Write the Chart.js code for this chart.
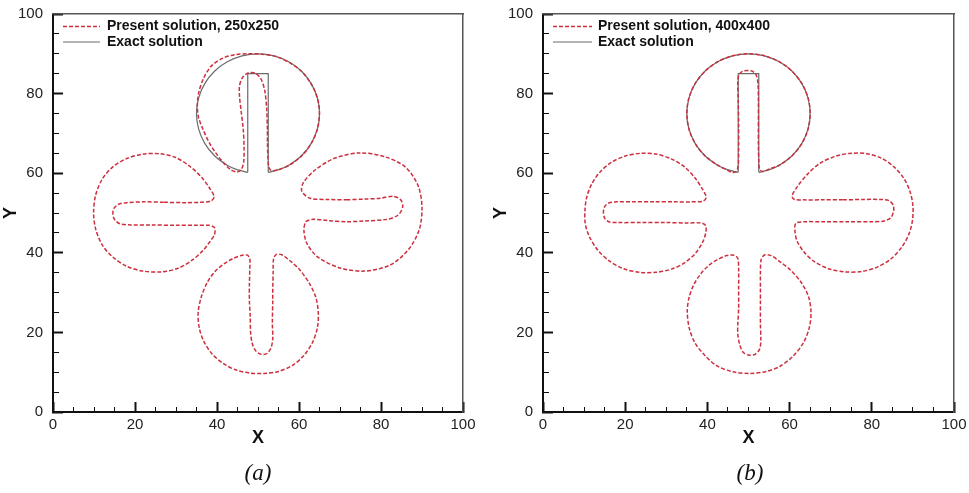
<!DOCTYPE html>
<html>
<head>
<meta charset="utf-8">
<script src="https://cdn.jsdelivr.net/npm/chart.js@4.4.1/dist/chart.umd.min.js"></script>
<style>
  body { margin: 0; background: #fff; }
  #wrap { position: relative; width: 969px; height: 493px; }
  .panel { position: absolute; top: 0; }
  .cap { position: absolute; top: 460px; width: 200px; text-align: center;
         font: italic 23px 'Liberation Serif', 'Times New Roman', serif; line-height: 26px; color: #111; }
</style>
</head>
<body>
<div id="wrap">
  <div class="panel" style="left:0px"><canvas id="chartA" width="480" height="493"></canvas></div>
  <div class="panel" style="left:490px"><canvas id="chartB" width="479" height="493"></canvas></div>
  <div class="cap" style="left:158px">(a)</div>
  <div class="cap" style="left:650px">(b)</div>
</div>
<script>
// ---- data (x, y) ----
const tickValues = [0, 20, 40, 60, 80, 100];
const legendA = ['Present solution, 250x250', 'Exact solution'];
const legendB = ['Present solution, 400x400', 'Exact solution'];

// exact Zalesak disk (same in both panels)
const exactArc = [[52.5,60.21],[55.13,60.9],[57.5,62.01],[60.61,64.39],[62.99,67.5],[64.49,71.12],[65,75],
  [64.49,78.88],[62.99,82.5],[60.61,85.61],[57.5,87.99],[53.88,89.49],[50,90],[46.12,89.49],[42.5,87.99],
  [39.39,85.61],[37.01,82.5],[35.51,78.88],[35,75],[35.51,71.12],[37.01,67.5],[39.39,64.39],[42.5,62.01],
  [44.87,60.9],[47.5,60.21]];
const exactSlot = [[47.5,60.21],[47.5,85],[52.5,85],[52.5,60.21]];

// panel (a) 250x250
const aTop = [[52.3,71],[52.1,76.5],[51.6,81],[50.6,83.9],[49.2,85.2],[47.6,85.2],[46.2,84],[45.5,82],
  [45.5,79.3],[45.9,75.5],[46.4,71],[46.6,66.5],[46.5,62.8],[45.9,60.9],[44.8,60.3],[43.3,60.9],[41.6,62.6],
  [39.7,65.1],[38,67.9],[36.6,71],[35.5,74],[35.2,77],[35.6,80.5],[36.8,84],[38.6,86.9],[41.4,88.9],
  [44.5,89.8],[47.5,90],[51,89.9],[54.5,89.3],[57.8,87.7],[60.8,85.4],[63.2,82],[64.6,78.5],[65,75],
  [64.5,71.1],[63,67.5],[60.8,64.5],[57.8,62.1],[55,60.9],[53.2,60.7],[52.6,61.8],[52.4,64.5],[52.3,68],[52.3,71]];
const aLeft = [[27,52.7],[22,52.8],[18,52.6],[16,52.2],[14.9,51.2],[14.6,49.9],[15,48.4],[16.3,47.3],[19,47],
  [24,47],[30,46.9],[35,46.9],[38,46.9],[39.4,46.3],[39.4,44.6],[38.4,43],[36.6,40.6],[34,38.2],[30.5,36.1],
  [26.5,35.2],[22,35.4],[18,36.6],[14.5,39],[12,42],[10.4,46],[9.9,50],[10.4,54.5],[12,58.5],[14.6,61.6],
  [18,63.7],[22,64.8],[26,64.9],[29.8,64],[33.3,61.8],[36.3,58.9],[38.3,56.1],[39.3,54.1],[38.5,53],[36,52.7],
  [32,52.6],[27,52.7]];
const aRight = [[71.6,53.3],[76,53.5],[79.8,53.7],[83,54.2],[84.8,53.3],[85.3,51.6],[84.2,49.5],[81.4,48.4],
  [76,48],[71.6,47.8],[67,48.1],[63.5,48.4],[61.7,47.8],[61.2,45.7],[61.9,42.4],[64.6,38.9],[70,36.2],
  [75.9,35.4],[82.2,36.9],[86.6,40.7],[89.3,45.7],[90,51.5],[89,57],[85.9,61.6],[81,64.1],[74.9,65.1],
  [68.8,63.8],[63.9,60.8],[61,57.5],[60.7,55.4],[62.7,53.7],[67,53.4],[71.6,53.3]];
const aBottom = [[53.6,28],[53.5,22.3],[53.6,18.5],[53.2,16.2],[52.2,14.7],[50.8,14.5],[49.5,15.3],[48.6,17.2],
  [48.2,20],[48.1,24],[47.9,28],[47.9,32],[48,36],[48,38.5],[47.4,39.4],[46.2,39.4],[44,38.6],[41.8,37.3],
  [39.5,35.3],[37.6,32.5],[36.2,29],[35.4,25],[35.7,21],[36.9,17.5],[38.8,14.6],[41.5,12.2],[44.5,10.6],
  [48,9.8],[51.5,9.7],[55,10.2],[58.4,11.7],[61.2,14.2],[63.3,17.5],[64.5,21.2],[64.7,25],[64.1,28.8],
  [62.6,32.2],[60.2,35.7],[57.8,38],[55.8,39.5],[54.5,39.6],[53.8,38.5],[53.7,35],[53.6,31],[53.6,28]];

// panel (b) 400x400
const bTop = [[52.4,72],[52.4,78],[52.3,82.5],[51.9,84.6],[51,85.6],[49.8,85.8],[48.5,85.6],[47.7,84.8],
  [47.4,83],[47.5,78],[47.6,72],[47.6,66],[47.5,62],[47,60.4],[46,60.2],[44.8,60.8],[42.5,62],[39.4,64.4],
  [37,67.5],[35.5,71.1],[35,75],[35.5,78.9],[37,82.5],[39.4,85.6],[42.5,88],[46.1,89.5],[50,90],[53.9,89.5],
  [57.5,88],[60.6,85.6],[63,82.5],[64.5,78.9],[65,75],[64.5,71.1],[63,67.5],[60.6,64.4],[57.5,62],[55.2,61.1],
  [53.5,60.4],[52.7,61],[52.5,63],[52.4,67],[52.4,72]];
const bLeft = [[27,52.8],[22,52.8],[18,52.8],[16,52.5],[15,51.6],[14.7,50.2],[15,48.7],[16,47.8],[18,47.6],
  [24,47.6],[30,47.6],[35,47.5],[38.5,47.5],[39.6,46.8],[39.6,45],[38.9,42.8],[37.2,40],[34.6,37.6],[31.3,35.9],
  [27.5,35.1],[23.5,35.1],[19.6,36],[16.2,37.9],[13.4,40.6],[11.4,43.8],[10.3,47.2],[10.2,50.5],[10.6,53.8],
  [11.8,57.2],[13.8,60.2],[16.6,62.7],[20,64.3],[23.8,65],[27.5,64.8],[31.2,63.6],[34.4,61.6],[37,58.8],
  [38.8,56],[39.7,54],[39,53],[36,52.8],[32,52.8],[27,52.8]];
const bRight = [[73,53.3],[78,53.4],[82,53.4],[84.2,53.1],[85.2,52],[85.3,50.5],[84.6,48.8],[83,48],[80,47.8],
  [74,47.8],[68,47.8],[63.5,47.8],[61.5,47.4],[61.3,45.5],[61.8,43],[63.5,40.2],[66,37.8],[69.5,36],[73.5,35.2],
  [77.5,35.3],[81.3,36.4],[84.6,38.4],[87.2,41.3],[89,44.6],[89.9,48.2],[90,51.8],[89.3,55.4],[87.8,58.7],
  [85.4,61.6],[82.3,63.8],[78.8,64.9],[75,65],[71.3,64.3],[67.4,62.5],[64.3,59.7],[62,56.8],[60.6,54.3],
  [61.2,53.4],[63.5,53.3],[68,53.3],[73,53.3]];
const bBottom = [[52.9,28],[52.9,22],[53,18],[52.7,15.8],[51.6,14.5],[50,14.3],[48.7,15],[47.9,16.8],[47.4,19.5],
  [47.4,22],[47.6,26],[47.6,31],[47.6,36],[47.4,38.6],[46.5,39.4],[44.7,39.3],[42.5,38.3],[40.4,36.9],[38.3,34.6],
  [36.6,31.8],[35.5,28.6],[35.1,25.2],[35.6,21],[37,17.3],[39.4,14.2],[42.3,11.6],[46.2,10.1],[50.4,9.7],
  [54.4,10.2],[57.7,11.5],[60.8,14],[63.3,17.3],[64.8,21.2],[65.2,25.2],[64.6,29],[62.8,32.6],[60.2,35.7],
  [57.6,37.8],[55.5,39.3],[54,39.5],[53.1,38.4],[52.9,35],[52.9,31],[52.9,28]];

// ---- styling ----
const FONT = "'Liberation Sans', Arial, Helvetica, sans-serif";
const RED = '#cc2f3d';
const GREY = '#6b6b6b';
const RED_DASH = [4, 2];

const toXY = arr => arr.map(p => ({x: p[0], y: p[1]}));

function numDs(pts) {
  return {data: toXY(pts), showLine: true, pointRadius: 0, borderColor: RED, borderWidth: 1.5,
          borderDash: RED_DASH, tension: 0.3, fill: false};
}
function exactDs(pts, tension) {
  return {data: toXY(pts), showLine: true, pointRadius: 0, borderColor: GREY, borderWidth: 1.2,
          tension: tension, fill: false};
}

const isMajor = v => tickValues.includes(v);

// legend sits inside the plot, top-left, with no box
const insideLegend = {
  id: 'insideLegend',
  afterDatasetsDraw(chart, args, opts) {
    const {ctx, chartArea} = chart;
    opts.items.forEach((it, i) => {
      const y = chartArea.top + 12.5 + i * 15.5;
      ctx.save();
      ctx.strokeStyle = it.color;
      ctx.lineWidth = it.width;
      ctx.setLineDash(it.dash);
      ctx.beginPath();
      ctx.moveTo(chartArea.left + opts.x0, y);
      ctx.lineTo(chartArea.left + opts.x1, y);
      ctx.stroke();
      ctx.setLineDash([]);
      ctx.fillStyle = '#111';
      ctx.font = 'bold 14px ' + FONT;
      ctx.textBaseline = 'middle';
      ctx.fillText(it.text, chartArea.left + opts.tx, y);
      ctx.restore();
    });
  }
};

function makeChart(id, shapes, labels, padRight, lg) {
  const datasets = shapes.map(numDs);
  datasets.push(exactDs(exactArc, 0.3));
  datasets.push(exactDs(exactSlot, 0));
  return new Chart(document.getElementById(id), {
    type: 'scatter',
    data: {datasets: datasets},
    options: {
      responsive: false,
      animation: false,
      layout: {padding: {top: 14, bottom: 44, left: 0, right: padRight}},
      plugins: {
        legend: {display: false},
        tooltip: {enabled: false},
        insideLegend: {
          x0: lg[0], x1: lg[1], tx: lg[2],
          items: [
            {text: labels[0], color: RED, width: 1.5, dash: RED_DASH},
            {text: labels[1], color: GREY, width: 1.2, dash: []}
          ]
        }
      },
      scales: {
        x: {
          type: 'linear', position: 'bottom', min: 0, max: 100,
          ticks: {stepSize: 5, autoSkip: false, maxRotation: 0, padding: 14, color: '#222',
                  font: {family: FONT, size: 15},
                  callback: v => isMajor(v) ? v : ''},
          grid: {drawOnChartArea: false, tickLength: -10, tickColor: '#111',
                 tickWidth: c => isMajor(c.tick.value) ? 2 : 1,
                 tickBorderDash: c => isMajor(c.tick.value) ? [] : [6, 100]},
          border: {color: '#111', width: 2},
          title: {display: true, text: 'X', color: '#111', padding: 0,
                  font: {family: FONT, size: 18, weight: 'bold'}},
          afterFit: s => { s.height = 37; s.paddingLeft = 0; s.paddingRight = 0; }
        },
        y: {
          type: 'linear', position: 'left', min: 0, max: 100,
          ticks: {stepSize: 5, autoSkip: false, padding: 20, color: '#222',
                  font: {family: FONT, size: 15},
                  callback: v => isMajor(v) ? v : ''},
          grid: {drawOnChartArea: false, tickLength: -10, tickColor: '#111',
                 tickWidth: c => isMajor(c.tick.value) ? 2 : 1,
                 tickBorderDash: c => isMajor(c.tick.value) ? [] : [0, 4, 7, 100]},
          border: {color: '#111', width: 2},
          title: {display: true, text: 'Y', color: '#111', padding: 0,
                  font: {family: FONT, size: 18, weight: 'bold'}},
          afterFit: s => { s.width = 53; s.paddingTop = 0; s.paddingBottom = 0; }
        },
        x2: {
          type: 'linear', position: 'top', min: 0, max: 100,
          ticks: {display: false}, grid: {display: false},
          border: {color: '#555', width: 1.5},
          afterFit: s => { s.height = 0; s.paddingLeft = 0; s.paddingRight = 0; }
        },
        y2: {
          type: 'linear', position: 'right', min: 0, max: 100,
          ticks: {display: false}, grid: {display: false},
          border: {color: '#555', width: 1.5},
          afterFit: s => { s.width = 0; s.paddingTop = 0; s.paddingBottom = 0; }
        }
      }
    },
    plugins: [insideLegend]
  });
}

makeChart('chartA', [aTop, aLeft, aRight, aBottom], legendA, 17, [10, 47, 54]);
makeChart('chartB', [bTop, bLeft, bRight, bBottom], legendB, 15, [10, 49, 55]);
</script>
</body>
</html>
